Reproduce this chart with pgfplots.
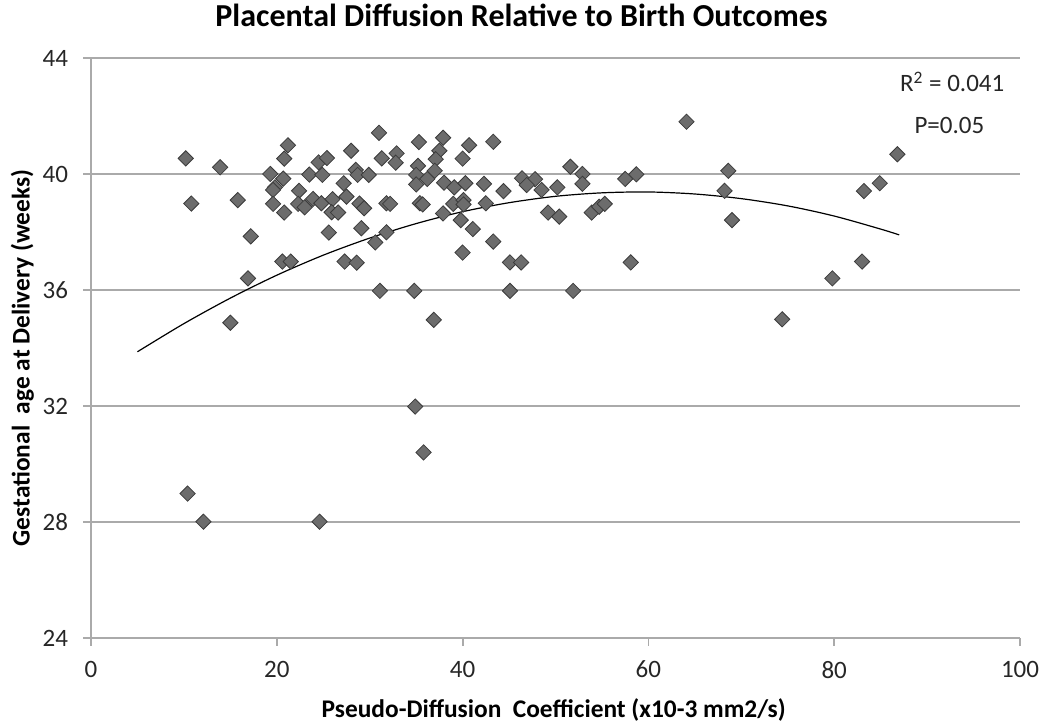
\documentclass[border=0pt]{standalone}
\usepackage{fontspec}
\setmainfont{Carlito}
\usepackage{pgfplots}
\pgfplotsset{compat=1.18}
\definecolor{gridgray}{RGB}{170,170,170}
\definecolor{markfill}{RGB}{108,108,108}
\definecolor{markedge}{RGB}{60,60,60}
\begin{document}
\begin{tikzpicture}
% 1 px of the reference = 0.5pt
\path[use as bounding box] (-45.5pt,-44.5pt) rectangle (479.5pt,319pt);
\begin{axis}[
    at={(0,0)}, anchor=south west,
    scale only axis,
    width=464.5pt, height=290pt,
    xmin=0, xmax=100, ymin=24, ymax=44,
    xtick={0,20,...,100}, ytick={24,28,...,44},
    axis x line*=bottom, axis y line*=left,
    axis line style={gridgray, line width=0.9pt},
    ymajorgrids, grid style={gridgray, line width=0.9pt},
    tick style={gridgray, line width=0.9pt},
    tick align=outside, major tick length=4pt,
    /pgf/number format/assume math mode=true,
    ticklabel style={font=\fontsize{12.5}{15}\selectfont, text=black!85},
    xticklabel style={yshift=-4pt},
    yticklabel style={xshift=-4pt},
    every axis title/.style={at={(0.4634,1.074)}, anchor=center, font=\bfseries\fontsize{16}{18}\selectfont},
    title={Placental Diffusion Relative to Birth Outcomes},
    xlabel={Pseudo-Diffusion\ \ Coefficient (x10-3 mm2/s)},
    xlabel style={at={(0.498,-0.124)}, anchor=center, font=\bfseries\fontsize{12.7}{15}\selectfont},
    ylabel={Gestational\ \ age at Delivery (weeks)},
    ylabel style={at={(-0.074,0.483)}, anchor=center, font=\bfseries\fontsize{12.7}{15}\selectfont},
    clip=false,
]
\addplot[only marks, mark=square*, mark size=2.7pt,
    mark options={rotate=45, fill=markfill, draw=markedge, line width=0.4pt}]
coordinates {
(10.2,40.54) (13.9,40.23) (10.8,38.98) (15.8,39.10) (17.2,37.85) (16.9,36.40)
(15.0,34.87) (21.2,40.99) (20.8,40.53) (19.3,40.00) (20.7,39.84) (19.8,39.54)
(19.6,39.45) (19.6,38.97) (20.8,38.67) (22.4,39.42) (22.3,38.97) (23.0,38.85)
(23.9,39.14) (23.5,39.98) (24.5,40.40) (25.4,40.55) (24.9,39.97) (24.8,38.99)
(26.0,39.13) (25.9,38.68) (26.6,38.67) (25.6,37.98) (20.6,36.98) (21.5,36.98)
(27.3,36.98) (27.2,39.68) (27.5,39.22) (28.0,40.80)
(31.0,41.42) (31.3,40.54) (32.9,40.71) (32.8,40.39) (35.3,41.10) (37.9,41.25)
(37.5,40.80) (37.1,40.51) (40.7,40.99) (40.0,40.53) (43.3,41.11) (28.5,40.14)
(28.7,39.97) (29.9,39.97) (28.9,38.98) (29.4,38.82) (31.8,38.99) (32.2,38.97)
(29.1,38.13) (31.8,37.99) (30.6,37.64) (28.6,36.94) (31.1,35.97) (34.8,35.97)
(36.9,34.97) (35.2,40.28) (35.0,39.97) (36.2,39.83) (37.0,40.11) (35.0,39.64)
(35.4,38.99) (35.7,38.95) (38.0,39.70) (39.1,39.54) (40.3,39.68) (42.3,39.66)
(44.4,39.41) (39.0,38.97) (40.1,39.10) (40.1,38.95) (42.5,38.99) (37.9,38.64)
(39.8,38.41) (41.1,38.10) (43.3,37.67) (40.0,37.29) (45.1,36.95) (46.3,36.95)
(45.1,35.97) (51.9,35.97) (46.4,39.85) (47.8,39.82) (46.9,39.62) (48.5,39.45)
(50.2,39.54) (51.6,40.25) (52.9,40.00) (52.9,39.66) (49.2,38.67) (50.4,38.53)
(53.9,38.67) (54.7,38.87)
(55.3,38.97) (57.5,39.83) (58.7,39.99) (58.1,36.95) (64.1,41.80) (68.6,40.11)
(68.2,39.42) (69.0,38.41) (74.4,34.99) (79.8,36.40) (83.0,36.98) (83.2,39.41)
(84.9,39.68) (86.8,40.68)
(34.9,31.98) (35.8,30.40) (10.4,28.98) (12.1,28.01) (24.6,28.01)
};
% polynomial trend line
\addplot[black, line width=0.6pt, smooth] coordinates {
(5,33.87) (10,34.84) (15,35.72) (20,36.51) (25,37.20) (30,37.79) (35,38.29)
(40,38.70) (45,39.01) (50,39.23) (55,39.35) (60,39.38) (65,39.31) (70,39.15)
(75,38.90) (80,38.55) (85,38.10) (87,37.90)
};
\node[font=\fontsize{12.5}{15}\selectfont, text=black!85] at (axis cs:92.7,43.17) {R\textsuperscript{2} = 0.041};
\node[font=\fontsize{12.5}{15}\selectfont, text=black!85] at (axis cs:92.4,41.66) {P=0.05};
\end{axis}
\end{tikzpicture}
\end{document}
